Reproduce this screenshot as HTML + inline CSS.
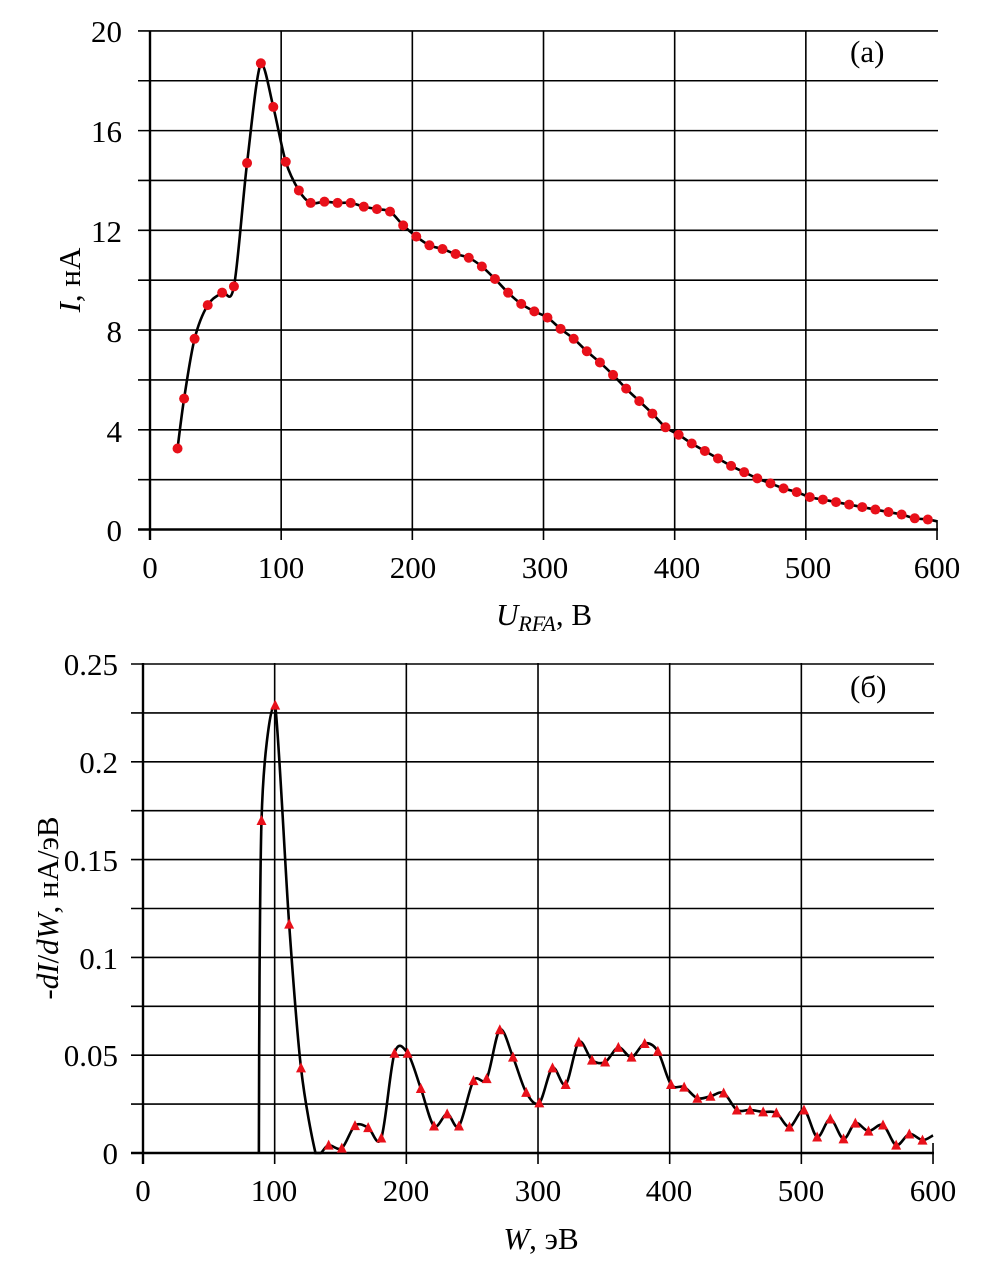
<!DOCTYPE html>
<html><head><meta charset="utf-8"><style>
html,body{margin:0;padding:0;background:#fff}
svg{display:block}
text{font-family:"Liberation Serif",serif;font-size:31px;fill:#000}
</style></head><body>
<svg id="s" width="1004" height="1274" viewBox="0 0 1004 1274" xmlns="http://www.w3.org/2000/svg">
<g id="g1" stroke="#000" stroke-width="1.6" fill="none"></g>
<g id="g2" stroke="#000" stroke-width="1.6" fill="none"></g>
<g text-anchor="end">
<text x="122" y="42">20</text><text x="122" y="142">16</text><text x="122" y="242">12</text>
<text x="122" y="342">8</text><text x="122" y="442">4</text><text x="122" y="541">0</text>
<text x="118" y="675">0.25</text><text x="118" y="773">0.2</text><text x="118" y="871">0.15</text>
<text x="118" y="969">0.1</text><text x="118" y="1066">0.05</text><text x="118" y="1164">0</text>
</g>
<g text-anchor="middle">
<text x="150" y="578">0</text><text x="281" y="578">100</text><text x="413" y="578">200</text>
<text x="545" y="578">300</text><text x="677" y="578">400</text><text x="808" y="578">500</text><text x="937" y="578">600</text>
<text x="143" y="1201">0</text><text x="274" y="1201">100</text><text x="406" y="1201">200</text>
<text x="538" y="1201">300</text><text x="669" y="1201">400</text><text x="801" y="1201">500</text><text x="933" y="1201">600</text>
<text x="544" y="625"><tspan font-style="italic">U</tspan><tspan font-style="italic" font-size="22" dy="6">RFA</tspan><tspan dy="-6">, В</tspan></text>
<text x="541" y="1249"><tspan font-style="italic">W</tspan>, эВ</text>
</g>
<text x="850" y="62">(а)</text>
<text x="850" y="697">(б)</text>
<text transform="translate(80,280) rotate(-90)" text-anchor="middle"><tspan font-style="italic">I</tspan>, нА</text>
<text transform="translate(58,908) rotate(-90)" text-anchor="middle">-<tspan font-style="italic">dI</tspan>/<tspan font-style="italic">dW</tspan>, нА/эВ</text>
<path id="c1" stroke="#000" stroke-width="2.6" fill="none"/>
<path id="c2" stroke="#000" stroke-width="2.6" fill="none"/>
<g id="m1" fill="#e8101a"></g>
<g id="m2" fill="#e8101a"></g>
</svg>
<script>
var NS="http://www.w3.org/2000/svg";
function el(p,t,a){var e=document.createElementNS(NS,t);for(var k in a)e.setAttribute(k,a[k]);p.appendChild(e);return e;}
var g1=document.getElementById('g1');
var X1=function(v){return 150+v*1.3117}, Y1=function(v){return 529.5-v*24.93};
for(var i=0;i<=10;i++){var y=Y1(i*2);el(g1,'line',{x1:138,x2:938,y1:y,y2:y,'stroke-width':i==0?2.4:1.6});}
el(g1,'line',{x1:150,x2:150,y1:31,y2:540,'stroke-width':2.4});
for(var i=1;i<=6;i++){var x=X1(i*100);el(g1,'line',{x1:x,x2:x,y1:i<6?31:520,y2:540});}
var g2=document.getElementById('g2');
var X2=function(v){return 143+v*1.3167}, Y2=function(v){return 1153-v*1956};
for(var i=0;i<=10;i++){var y=Y2(i*0.025);el(g2,'line',{x1:131,x2:934,y1:y,y2:y,'stroke-width':i==0?2.4:1.6});}
el(g2,'line',{x1:143,x2:143,y1:663,y2:1164,'stroke-width':2.4});
for(var i=1;i<=6;i++){var x=X2(i*100);el(g2,'line',{x1:x,x2:x,y1:i<6?663:1143,y2:1164});}
var d1=[[21,3.25],[26,5.25],[34,7.65],[44,9.0],[55,9.5],[64,9.75],[74,14.7],[84.5,18.7],[94,16.95],[103.5,14.75],[113.5,13.6],[122.5,13.1],[133,13.15],[143,13.1],[153,13.1],[163,12.95],[173,12.85],[183,12.75],[193,12.2],[203,11.75],[213,11.4],[223,11.25],[233,11.05],[243,10.9],[253,10.55],[263,10.05],[273,9.5],[283,9.05],[293,8.75],[303,8.5],[313,8.05],[323,7.65],[333,7.15],[343,6.7],[353,6.2],[363,5.65],[373,5.15],[383,4.65],[393,4.1],[403,3.8],[413,3.45],[423,3.15],[433,2.85],[443,2.55],[453,2.3],[463,2.05],[473,1.85],[483,1.65],[493,1.5],[503,1.3],[513,1.2],[523,1.1],[533,1.0],[543,0.9],[553,0.8],[563,0.7],[573,0.6],[583,0.45],[593,0.4]];
var d2=[[90,0.170],[100.4,0.229],[111,0.117],[120,0.0435],[141,0.004],[151,0.0025],[161,0.014],[171,0.013],[181,0.0077],[191,0.051],[201,0.051],[211,0.033],[221,0.0138],[231,0.020],[240,0.0138],[251,0.037],[261,0.038],[271,0.063],[281,0.049],[291,0.031],[301,0.0256],[311,0.0435],[321,0.035],[331,0.0567],[341,0.0475],[351,0.0465],[361,0.054],[371,0.049],[381,0.056],[391,0.052],[401,0.035],[411,0.0337],[421,0.028],[431,0.029],[441,0.0307],[451,0.022],[461,0.022],[471,0.021],[481,0.0205],[491,0.0133],[502,0.022],[512,0.0082],[522,0.0174],[532,0.0072],[541,0.0153],[551,0.0112],[562,0.0143],[572,0.004],[582,0.0097],[592,0.0066]];
function cr(pts,lo,hi){var c=function(y){if(lo!=null&&y>lo)y=lo;if(hi!=null&&y<hi)y=hi;return y;};var s="M"+pts[0][0]+","+pts[0][1];for(var i=0;i<pts.length-1;i++){var p0=pts[i-1]||pts[i],p1=pts[i],p2=pts[i+1],p3=pts[i+2]||p2;var t=0.16;s+=" C"+(p1[0]+(p2[0]-p0[0])*t)+","+c(p1[1]+(p2[1]-p0[1])*t)+" "+(p2[0]-(p3[0]-p1[0])*t)+","+c(p2[1]-(p3[1]-p1[1])*t)+" "+p2[0]+","+p2[1];}return s;}
var p1=d1.map(function(d){return [X1(d[0]),Y1(d[1])]});
p1.push([X1(600),Y1(0.33)]);
document.getElementById('c1').setAttribute('d',cr(p1,null,Y1(18.7)));
var l2=[[88,0],[88.5,0.09],[90,0.170],[94,0.21],[100.4,0.229],[111,0.117],[120,0.0435],[131,0],[135,0]].concat(d2.slice(4)).concat([[600,0.009]]);
var p2=l2.map(function(d){return [X2(d[0]),Y2(d[1])]});
document.getElementById('c2').setAttribute('d',cr(p2,Y2(0),Y2(0.229)));
var m1=document.getElementById('m1');
d1.forEach(function(d){el(m1,'circle',{cx:X1(d[0]),cy:Y1(d[1]),r:5});});
var m2=document.getElementById('m2');
d2.forEach(function(d){var x=X2(d[0]),y=Y2(d[1]);el(m2,'polygon',{points:(x-5)+","+(y+4.5)+" "+(x+5)+","+(y+4.5)+" "+x+","+(y-5.5)});});
</script>
</body></html>
